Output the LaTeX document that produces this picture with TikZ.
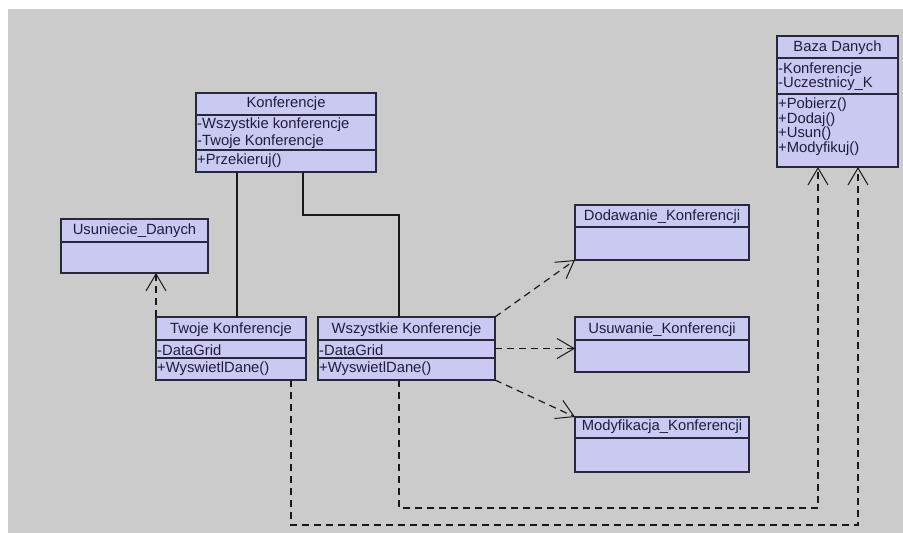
\documentclass[tikz,border=0pt]{standalone}
\usepackage{fontspec}
\setmainfont{Liberation Sans}
\usetikzlibrary{arrows.meta}
\definecolor{bggray}{RGB}{203,203,203}
\definecolor{clsfill}{RGB}{201,201,242}
\definecolor{clsline}{RGB}{40,40,60}
\definecolor{clstext}{RGB}{30,30,60}
\definecolor{wire}{RGB}{25,25,25}

\begin{document}
\begin{tikzpicture}[x=1pt,y=-1pt,
  cls/.style={draw=clsline, fill=clsfill, line width=1.4pt, inner sep=0pt, outer sep=0pt},
  sepline/.style={draw=clsline, line width=1.2pt},
  title/.style={inner sep=0pt, text=clstext, font=\fontsize{14.8}{16}\selectfont},
  member/.style={title, anchor=west},
  assoc/.style={draw=wire, line width=1.2pt},
  dep/.style={draw=wire, line width=1.2pt, dash pattern=on 7pt off 5pt,
              -{Straight Barb[length=17pt,width=20pt,line width=1pt]}}
]
% canvas
\fill[white] (0,0) rectangle (903,533);
\fill[bggray] (8,9) rectangle (903,533);
\useasboundingbox (0,0) rectangle (903,533);

% Konferencje
\node[cls, minimum width=180, minimum height=79] (K) at (286,132.5) {};
\draw[sepline] (K.west |- 0,115) -- (K.east |- 0,115);
\draw[sepline] (K.west |- 0,150) -- (K.east |- 0,150);
\node[title] (K-t) at (286,104) {Konferencje};
\node[member] (K-a1) at (197,125) {-Wszystkie konferencje};
\node[member] (K-a2) at (197,142) {-Twoje Konferencje};
\node[member] (K-m1) at (197,161) {+Przekieruj()};

% Baza Danych
\node[cls, minimum width=121, minimum height=131] (BD) at (837.5,101.5) {};
\draw[sepline] (BD.west |- 0,58) -- (BD.east |- 0,58);
\draw[sepline] (BD.west |- 0,94) -- (BD.east |- 0,94);
\node[title] (BD-t) at (837.5,48) {Baza Danych};
\node[member] (BD-a1) at (778,70) {-Konferencje};
\node[member] (BD-a2) at (778,84) {-Uczestnicy\_K};
\node[member] (BD-m1) at (778,105) {+Pobierz()};
\node[member] (BD-m2) at (778,119.5) {+Dodaj()};
\node[member] (BD-m3) at (778,134) {+Usun()};
\node[member] (BD-m4) at (778,148.5) {+Modyfikuj()};

% Usuniecie_Danych
\node[cls, minimum width=147, minimum height=54] (UD) at (134.5,246) {};
\draw[sepline] (UD.west |- 0,242) -- (UD.east |- 0,242);
\node[title] (UD-t) at (134.5,231) {Usuniecie\_Danych};

% Twoje Konferencje
\node[cls, minimum width=150, minimum height=63] (TK) at (231,348.5) {};
\draw[sepline] (TK.west |- 0,340) -- (TK.east |- 0,340);
\draw[sepline] (TK.west |- 0,358) -- (TK.east |- 0,358);
\node[title] (TK-t) at (231,330) {Twoje Konferencje};
\node[member] (TK-a1) at (157,350) {-DataGrid};
\node[member] (TK-m1) at (157,369) {+WyswietlDane()};

% Wszystkie Konferencje
\node[cls, minimum width=177, minimum height=63] (WK) at (406.5,348.5) {};
\draw[sepline] (WK.west |- 0,340) -- (WK.east |- 0,340);
\draw[sepline] (WK.west |- 0,358) -- (WK.east |- 0,358);
\node[title] (WK-t) at (406.5,330) {Wszystkie Konferencje};
\node[member] (WK-a1) at (319,350) {-DataGrid};
\node[member] (WK-m1) at (319,369) {+WyswietlDane()};

% Dodawanie_Konferencji
\node[cls, minimum width=174, minimum height=55] (DK) at (662,232.5) {};
\draw[sepline] (DK.west |- 0,227) -- (DK.east |- 0,227);
\node[title] (DK-t) at (662,217) {Dodawanie\_Konferencji};

% Usuwanie_Konferencji
\node[cls, minimum width=174, minimum height=55] (UK) at (662,344.5) {};
\draw[sepline] (UK.west |- 0,340) -- (UK.east |- 0,340);
\node[title] (UK-t) at (662,330) {Usuwanie\_Konferencji};

% Modyfikacja_Konferencji
\node[cls, minimum width=174, minimum height=55] (MK) at (662,444.5) {};
\draw[sepline] (MK.west |- 0,438) -- (MK.east |- 0,438);
\node[title] (MK-t) at (662,427) {Modyfikacja\_Konferencji};

% associations
\draw[assoc] ([xshift=41]K.south west) -- ([xshift=81]TK.north west);
\draw[assoc] ([xshift=107]K.south west) -- ++(0,43) -| ([xshift=81]WK.north west);

% dependencies
\draw[dep] (TK.north west) -- (UD.south west -| TK.north west);
\draw[dep] (WK.north east) -- (DK.south west);
\draw[dep] (WK.east) -- (WK.east -| UK.west);
\draw[dep] (WK.south east) -- (MK.north west);
\draw[dep] ([xshift=81]WK.south west) -- ++(0,128) -| ([xshift=41]BD.south west);
\draw[dep] ([xshift=135]TK.south west) -- ++(0,145) -| ([xshift=81]BD.south west);
\end{tikzpicture}
\end{document}
